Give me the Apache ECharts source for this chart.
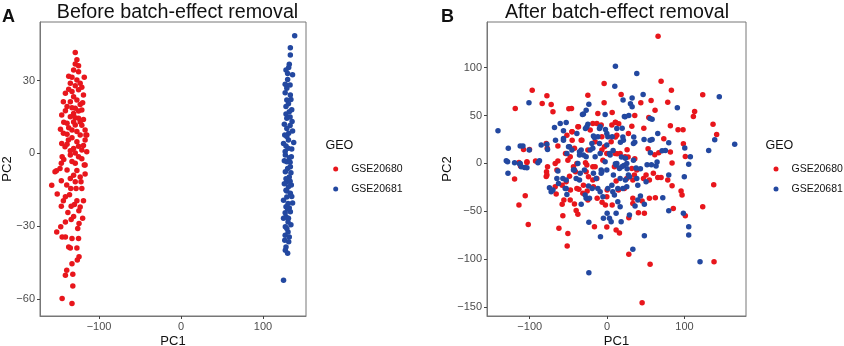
<!DOCTYPE html>
<html>
<head>
<meta charset="utf-8">
<script src="https://cdn.jsdelivr.net/npm/echarts@6/dist/echarts.min.js"></script>
<style>
  html, body { margin: 0; padding: 0; background: #fff; }
  #chart { width: 844px; height: 346px; }
</style>
</head>
<body>
<div id="chart"></div>
<script>
// legend groups
const groups = ['GSE20680', 'GSE20681']

// panel A: before batch-effect removal [PC1, PC2]
const beforeRed = [
  [-129, 41.6], [-129, 36.9], [-125, 36.1], [-131, 34.4], [-125, 33.7], [-118, 31.4], [-127, 30.3], [-135, 28.9],
  [-123, 28.9], [-133, 25.5], [-125, 26.2], [-141, 24.8], [-119, 24.1], [-143.5, 21.3], [-135, 21.3], [-127, 22],
  [-139, 19.3], [-129, 18.6], [-121, 17.9], [-145.5, 15.8], [-135, 15.1], [-125, 14.5], [-139, 12.4], [-129, 11.7],
  [-133, 9.6], [-117, 9.6], [-143.5, 8.3], [-123, 7.6], [-115, 7.6], [-137.4, 5.5], [-127, 4.8], [-117, 5.5],
  [-141.5, 2.7], [-131, 2], [-121, 1.4], [-115, 0.7], [-135, -0.7], [-125, -1.4], [-147.6, -6.2], [-153.7, -7.6],
  [-139, -6.9], [-117, -4.8], [-129, -4.1], [-123, -9.7], [-145.5, 4.1], [-118, -4.8], [-116, 7.6],
  [-157.7, -13.2], [-152, -7.2], [-151, -16.8], [-146, -4.1], [-145, -1.4], [-143.5, -19.6], [-146, -21.8], [-141, -17.9],
  [-151.6, -32.4], [-146.7, -30.3], [-145, -34.5], [-141, -34.5], [-141, -28.3], [-134, -21.8], [-134, -27.3], [-131, -26],
  [-133, -35.1], [-125, -35.1], [-126, -31], [-124.4, -28.9], [-124.6, -23.7], [-123, -22.1], [-119, -19.6], [-127, -19.6],
  [-128, -14.5], [-121, -14.5], [-122, -11.7], [-129, -11.7], [-134.5, -14.5], [-139.4, -13], [-137, -38.6], [-135, -39],
  [-127, -39], [-124.4, -42.7], [-126.5, -44], [-133, -45.5], [-139.4, -48.2], [-141, -50.3], [-132, -49.9], [-132, -54.7],
  [-145, -59.9], [-133, -61.9],
  [-137, 26.5], [-131, 23.4], [-123, 20.2], [-141, 17.6], [-131, 16.4], [-119, 14], [-137, 10.6], [-127, 9],
  [-121, 11.6], [-133, 6.4], [-139, 3.8], [-125, 2.9], [-119, 3.2], [-135, 1.1], [-129, 0.2], [-143, -2.5],
  [-121, -2.2], [-133, -3.4], [-127, -7.1], [-131, -9], [-135, -10.4], [-117, -8.5], [-137, 31.8], [-121, 27.3],
  [-129, 27.9], [-133, 18.8], [-125, 17.5], [-143, 12.8], [-129, 14.7], [-123, 12.9], [-139, 7.9], [-131, 12.9],
  [-127, 38.6], [-133, 31.4], [-120, 20.9], [-147, 9.9], [-136, -17.1], [-130, -21.1], [-138, -24.4], [-120, -26.8],
  [-146, -11.3]
]
const beforeBlue = [
  [138.6, 48.5], [133.3, 43.6], [133.3, 40.6], [132, 36.8], [128, 34.4], [131.3, 35.4], [136, 32.4], [129, 27.9],
  [129, 26.9], [133.3, 24.1], [129, 22], [128, 19.3], [132, 17.2], [129, 14.5], [135.4, 13.1], [136, 9.2],
  [126.5, 7.6], [131.3, 8.3], [125, 4.1], [137.4, 4.5], [130.5, 2.1], [127.2, -0.7], [134.5, -1.4], [129, -3.5],
  [133.3, -5.5], [127.2, -7.6], [132, -9.7], [129, -11.7], [134.5, -13.1], [128, -15.2], [133.3, -16.5], [125, -19.3],
  [130.5, -20.7], [128, -22], [133.3, -24.1], [128, -26.2], [130.5, -28.3], [127.2, -30.3], [130.5, -32.4], [126.5, -35.8],
  [131.3, -36.5], [127.2, -40], [128, -38.6], [125, -52.3],
  [130, 30.5], [133, 28.2], [127, 25], [131, 20.5], [135, 18], [128, 16.2], [133, 11.5], [129, 10.3],
  [126, 12], [131, 5.5], [135, 1.8], [128, 3], [132, -1.8], [126, -3], [130, -6.2], [134, -8],
  [128, -10.5], [131, -13.8], [126, -12.5], [135, -17.8], [129, -18], [132, -22.5], [127, -24.5], [131, -26.8],
  [134, -29.5], [129, -31], [127, -33.8], [132, -34.5], [130, -41.2], [134, 22.2], [130, 33], [127, 28.5],
  [133, 15], [129, 7], [133, -3.7], [129, -15.5], [130, -23], [133, -11.5], [127, 0.8], [136, -20.5],
  [125, -26.8]
]

// panel B: after batch-effect removal [PC1, PC2]
const afterRed = [
  [-96.8, 76.5], [-77.8, 70.6], [-83.9, 62.6], [-72.3, 61.6], [-118.7, 57.4], [-70, 53.9], [-49.5, 57], [-46, 57.4],
  [-3.9, 83.5], [-24.9, 71.3], [-3.9, 63.3], [-12, 52.2], [6.5, 53.2], [-37.8, 38.2], [-45.2, 33], [-18.5, 41.8],
  [-7.7, 40], [10.7, 42.8], [-78.7, 20.9], [-63.6, 18.1], [-45.2, 24.3], [-33.5, 24.3], [-100.3, 14.6], [-108, 14.6],
  [-77.4, 15.7], [-53.8, 10.4], [-42.2, 15.7], [-24.9, 13.9], [-3.5, 17.3], [5.2, 22.5], [-103.6, 1.7], [-92.5, 2.4],
  [-111.9, -2.8], [-77, -3.5], [-63.6, 2.4], [-50.7, 3.4], [-43.5, -3.5], [-28, 0.6], [-18.5, -3.5], [-5.5, 3.4],
  [9.4, -3.5],
  [65.8, 132.9], [69.7, 85.9], [83, 76.5], [123.5, 71.6], [18.1, 72], [43.5, 63.3], [56.8, 65.8], [78.3, 64],
  [61.9, 55.6], [113, 54.3], [111.4, 49], [35.7, 50.1], [53.8, 48], [10.7, 43.1], [15, 41.3], [136.8, 41],
  [31.9, 38.9], [47.4, 36.8], [81.7, 39.3], [91.6, 35.1], [98.1, 35.1], [141.5, 30.3], [10.7, 27.5], [73.2, 25.7],
  [98.5, 20.5], [25.8, 14.2], [52.9, 15.2], [66.7, 11.1], [81.7, 11.8], [61.5, 9], [101, 7.3], [12.9, 10],
  [27.1, 6.6], [35.7, 4.8], [83.9, 0.3],
  [-119.6, -16.4], [-105.8, -33.8], [-113.9, -43.5], [-101.9, -63.7], [-78.3, -8.8], [-78.7, -13.6], [-67.1, -24.4], [-58.1, -22.7],
  [-52.9, -19.2], [-55.9, -38.3], [-58.1, -42.8], [-47.4, -27.9], [-57.2, -54.7], [-62.3, -67.8], [-50.7, -73.1], [-51.6, -86.3],
  [-42.2, -42.5], [-40, -49.1], [-37.8, -53.2], [-36.5, -27.1], [-31.4, -31.3], [-25.8, -28.9], [-24.9, -38.3], [-17.7, -24.4],
  [-12.9, -36.5], [-6.5, -40.7], [-2.2, -43.5], [-16.4, -66.2], [-0.4, -66.5], [6.5, -43.5], [11.6, -69.6], [15.9, -72.8],
  [28, -56.8], [28, -95], [33.2, -36.5], [40.4, -51.6], [48.1, -52.2], [45.2, -39.4], [54.6, -36.5], [62.3, -35.9],
  [55.5, -105.4], [45.2, -145.5], [85.5, -47], [101, -54.7], [78.3, -17.4], [83.9, -23.4], [95.5, -28.9], [96.8, -33.1],
  [65.4, -14.6], [69.7, -14.6], [54.6, -17.4], [50.3, -12.2], [123.5, -45.3], [137.7, -22.3], [138.1, -102.7], [33.2, -17.4],
  [35.2, -12.2], [22.3, -26.1], [-48.6, -13.3], [-40.9, -8.8], [-27.1, -8.8], [-18.5, -17.4], [0, -27.9], [33.2, -41.8],
  [11.6, -18.5],
  [-113.9, 1], [-103.6, 1], [-77.8, -12.2], [-65.8, -32],
  [-47.7, 6.9], [-39.1, 0], [-26.2, -1.8], [-15.5, -3.5], [-24.1, -14], [-13.3, -15.7], [-6.8, 13.9], [-0.4, 10.4],
  [10.3, 10.4], [16.8, 10.4], [23.2, 6.9], [31.9, -5.2], [25.4, -15.7], [14.6, -27.9], [38.3, -7], [47, -15.7],
  [-45.5, 33], [-37, 38.2], [-21.9, 34.8], [-13.3, 41.8], [6.1, 40], [12.5, 29.5], [27.5, 31.3], [-52, 29.5],
  [-32.6, 24.3], [-15.5, 22.5], [-6.8, 27.8], [-67.1, 0], [-64.9, -7], [-39.1, -26.1], [-30.6, -22.7], [-47.7, -38.3],
  [-0.4, -34.9], [59.7, -10.4]
]
const afterBlue = [
  [10.7, 101.6], [9.9, 80.7], [-101, 63.3], [-23.6, 61.9], [-27.1, 55.6], [-30.6, 51.5], [-141, 34], [-68, 37.6],
  [-60.6, 41.8], [-52.9, 42.8], [-56.4, 34], [-66.7, 24.3], [-56.4, 26.1], [-28, 36.5], [-24.9, 41], [-16.4, 27.1],
  [-12, 27.8], [-9.9, 36.5], [-2.2, 35.5], [0.9, 27.8], [6.5, 27.8], [-127.7, 15.7], [-108.8, 18.1], [-85.2, 19.1],
  [-48.6, 17.3], [-33.5, 13.9], [-9.9, 20.9], [-18.5, 15.7], [-130.3, 2.7], [-119.6, 0.6], [-113, -0.7], [-106.7, -4.2],
  [-87.4, 2.7], [-35.7, 8.7], [-27.1, 6.9], [3, 10.4], [-37.8, 0], [-29.3, -7], [-7.7, -7], [11.6, -1.8],
  [-42.2, -7],
  [38.3, 93.9], [46.5, 72], [20.6, 66.1], [32.3, 68.2], [30.1, 62.2], [32.3, 59.1], [90.7, 58], [144.9, 69.5],
  [22.3, 49], [28, 50.1], [58.1, 46.2], [19.4, 36.8], [65.4, 31.3], [20.3, 27.5], [34.4, 27.5], [35.7, 22.2],
  [47.7, 25], [58.1, 25], [79.6, 21.5], [139, 24.6], [164.8, 20.1], [131.2, 13.6], [100.3, 16], [17.2, 22.2],
  [71, 13.2], [75.3, 13.6], [55.9, 11.1], [7.7, 13.6], [18.5, 6.6], [23.6, 5.5], [107.5, 6.9], [10.7, -0.4],
  [21.5, -2.1], [25.8, -5.6], [37.4, -4.9], [51.6, -1.5], [57.2, -1.5], [63.2, -2.8], [64.5, 1.4], [105.4, -1],
  [43, -5.6],
  [-128.1, -10.4], [-111, -3.5], [-74.5, -25.5], [-72.3, -29.6], [-70, -27.9], [-64.9, -15.7], [-63.6, -8], [-57.2, -15.7],
  [-52.9, -17.4], [-52.9, -26.1], [-52, -32.4], [-40, -15.7], [-35.7, -17.4], [-33.5, -42.8], [-27.1, -36.5], [-22.8, -36.5],
  [-24.1, -23.7], [-19.4, -26.1], [-23.6, -61.6], [-8.6, -76.6], [-12, -26.1], [-5.5, -34.9], [-4.8, -57.4], [0, -52.2],
  [3, -57.4], [5.2, -61], [7.3, -29.6], [9.4, -33.1], [13.8, -26.1], [16.8, -45.3], [11.6, -52.2], [18.1, -61],
  [28.8, -54], [33.2, -89.8], [36.1, -44.6], [39.6, -38.3], [43, -34.1], [48.1, -42.8], [48.1, -75.6], [71.9, -35.9],
  [79.6, -49.5], [99.7, -14], [98.5, -52.2], [105.4, -66.2], [105.4, -74.8], [120, -102.7], [-23.6, -114.2], [79.6, -12.2],
  [50.3, -19.2], [39.6, -22.7], [23.6, -17.4], [28.8, -14], [15.9, -5.2], [0.9, -26.1], [-14.2, -15.7], [-7.7, -10.4],
  [20.3, -26.1], [13.8, -40],
  [-128.6, 1.7], [-112.3, 18.1], [-112.3, 0], [-103.6, -4.6], [-100.6, 13.9], [-89.4, 0.6], [-77.8, 20.1], [-77, 14.6],
  [-52, 10.4], [-45.5, 13.9], [-35.7, 12.1], [-30.6, 8.7], [-21.9, 13.9], [-15.5, 6.9], [-9, 10.4], [-2.6, 1.7],
  [3.9, 8.7], [12.5, 0], [18.9, -3.5], [25.4, 0], [34, 3.4], [-43.5, -7], [-34.8, -10.4], [-17.7, -10.4],
  [-6.8, -8.8], [-0.4, -7], [8.1, -12.2], [16.8, -15.7], [27.5, -12.2], [38.3, -15.7], [-39.1, 31.3], [-26.2, 38.2],
  [-17.7, 28.5], [-9, 38.2], [-0.4, 31.3], [12.5, 36.5], [21, 24.3], [34, 20.9], [-56.4, 24.3], [-49.9, 17.3],
  [-19.7, 20.9], [-0.4, 19.1], [-62.8, -20.9], [-54.2, -26.1], [-28.4, -33.1], [-9, -29.6], [6.1, -22.7], [25.4, -24.4],
  [55.5, 24.3], [-31.9, 51.2], [-2.6, 51.2], [23.2, 48.6], [55.5, 47]
]

// tick labels
const beforeXTicks = [-100, 0, 100]
const beforeYTicks = [-60, -30, 0, 30]
const afterXTicks = [-100, 0, 100]
const afterYTicks = [-150, -100, -50, 0, 50, 100]

const RED = '#e8161c'
const BLUE = '#2348a0'
const FONT = 'Liberation Sans, Arial, sans-serif'

function makeAxis(idx, ticks, min, max, name, gap) {
  return {
    gridIndex: idx,
    type: 'value',
    min: min,
    max: max,
    name: name,
    nameLocation: 'middle',
    nameGap: gap,
    nameMoveOverlap: false,
    nameTextStyle: { fontFamily: FONT, fontSize: 13, color: '#111' },
    axisLine: { show: true, onZero: false, lineStyle: { color: '#777', width: 1 } },
    axisTick: { show: true, length: 3, customValues: ticks, lineStyle: { color: '#444' } },
    axisLabel: { customValues: ticks, margin: 5, fontFamily: FONT, fontSize: 11, color: '#4d4d4d',
      formatter: v => (v < 0 ? '\u2212' + Math.abs(v) : String(v)) },
    splitLine: { show: false }
  }
}

function dots(name, xi, data, color) {
  return {
    name: name,
    type: 'scatter',
    xAxisIndex: xi,
    yAxisIndex: xi,
    data: data,
    symbolSize: 5.5,
    itemStyle: { color: color, opacity: 1 },
    silent: true
  }
}

function legendAt(left) {
  return {
    data: groups,
    orient: 'vertical',
    left: left,
    top: 163,
    padding: 0,
    icon: 'circle',
    itemWidth: 5,
    itemHeight: 5,
    itemGap: 8,
    selectedMode: false,
    textStyle: { fontFamily: FONT, fontSize: 10.5, lineHeight: 12, color: '#111', padding: [0, 0, 0, 8] }
  }
}

function label(text, left, top, size, weight, align) {
  return {
    text: text, left: left, top: top, padding: 0, textAlign: align || 'left',
    textStyle: { fontFamily: FONT, fontSize: size, fontWeight: weight, color: '#111' }
  }
}

const chart = echarts.init(document.getElementById('chart'))
chart.setOption({
  animation: false,
  backgroundColor: '#fff',
  title: [
    label('Before batch-effect removal', 177.5, 3, 19.7, 'normal', 'center'),
    label('After batch-effect removal', 617, 3, 19.6, 'normal', 'center'),
    label('A', 2, 8, 18, 'bold'),
    label('B', 441, 8, 18, 'bold'),
    label('GEO', 325.5, 139, 12.5, 'normal'),
    label('GEO', 765.5, 139, 12.5, 'normal')
  ],
  legend: [legendAt(333.2), legendAt(773.5)],
  grid: [
    { left: 40, top: 22, width: 266, height: 294, outerBoundsMode: 'none', containLabel: false,
      show: true, borderColor: '#777', borderWidth: 1, backgroundColor: '#fff' },
    { left: 487, top: 22, width: 259, height: 294, outerBoundsMode: 'none', containLabel: false,
      show: true, borderColor: '#777', borderWidth: 1, backgroundColor: '#fff' }
  ],
  xAxis: [
    makeAxis(0, beforeXTicks, -172, 152.4, 'PC1', 19),
    makeAxis(1, afterXTicks, -155.2, 179.4, 'PC1', 19)
  ],
  yAxis: [
    makeAxis(0, beforeYTicks, -67.1, 54.2, 'PC2', 26),
    makeAxis(1, afterYTicks, -159.4, 147.7, 'PC2', 33)
  ],
  series: [
    dots(groups[0], 0, beforeRed, RED),
    dots(groups[1], 0, beforeBlue, BLUE),
    dots(groups[0], 1, afterRed, RED),
    dots(groups[1], 1, afterBlue, BLUE)
  ]
})
</script>
</body>
</html>
